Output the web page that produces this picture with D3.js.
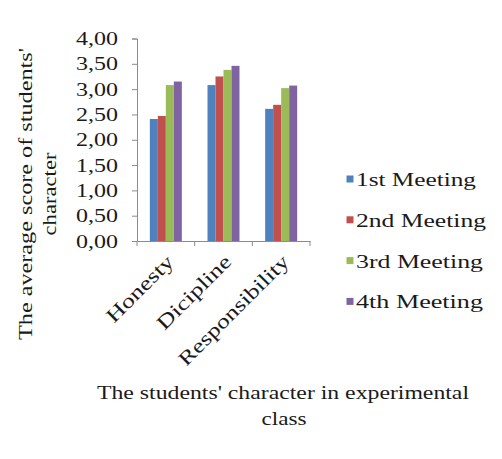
<!DOCTYPE html>
<html>
<head>
<meta charset="utf-8">
<script src="https://cdn.jsdelivr.net/npm/d3@7"></script>
<style>
  html, body { margin: 0; padding: 0; background: #ffffff; }
  svg { display: block; }
  svg text { font-family: "Liberation Serif", Tinos, "Times New Roman", Times, serif !important; fill: #1a1a1a; }
</style>
</head>
<body>
<svg id="chart" width="502" height="459"></svg>
<script>
// ---- data ----
const categories = ["Honesty", "Dicipline", "Responsibility"];
const seriesNames = ["1st Meeting", "2nd Meeting", "3rd Meeting", "4th Meeting"];
const meeting1 = [2.41, 3.08, 2.61];
const meeting2 = [2.47, 3.25, 2.69];
const meeting3 = [3.08, 3.38, 3.02];
const meeting4 = [3.15, 3.46, 3.07];
const yTicks = [0, 0.5, 1, 1.5, 2, 2.5, 3, 3.5, 4];
const colors = ["#4F81BD", "#C0504D", "#9BBB59", "#8064A2"];
const yTitleLines = ["The average score of students'", "character"];
const xTitleLines = ["The students' character in experimental", "class"];

const seriesValues = [meeting1, meeting2, meeting3, meeting4];

const svg = d3.select("#chart");
const axisColor = "#8c8c8c";

// scales
const x = d3.scaleBand().domain(categories).range([137, 310]).padding(0);
const inner = d3.scaleBand().domain(seriesNames).range([-16, 16]).padding(0);
const y = d3.scaleLinear().domain([0, 4]).range([241, 38.5]);

// bars
categories.forEach((cat, ci) => {
  const g = svg.append("g");
  seriesNames.forEach((s, si) => {
    const v = seriesValues[si][ci];
    g.append("rect")
      .attr("x", x(cat) + x.bandwidth() / 2 + inner(s))
      .attr("y", y(v))
      .attr("width", inner.bandwidth())
      .attr("height", y(0) - y(v))
      .attr("fill", colors[si]);
  });
});

// y axis
const fmt = d => d.toFixed(2).replace(".", ",");
const yAxis = svg.append("g")
  .attr("transform", "translate(137,0)")
  .call(d3.axisLeft(y).tickValues(yTicks).tickFormat(fmt).tickSize(5).tickPadding(14));
yAxis.attr("font-family", null);
yAxis.select(".domain").attr("stroke", axisColor);
yAxis.selectAll(".tick line").attr("stroke", axisColor);
yAxis.selectAll(".tick text")
  .attr("font-size", 19)
  .attr("fill", "#1a1a1a")
  .attr("textLength", 42)
  .attr("lengthAdjust", "spacingAndGlyphs");

// x axis
const xAxis = svg.append("g")
  .attr("transform", "translate(0,241)")
  .call(d3.axisBottom(x).tickSize(0).tickFormat(""));
xAxis.select(".domain").attr("stroke", axisColor);
xAxis.selectAll(".bound").data(d3.range(categories.length + 1)).enter()
  .append("line")
  .attr("x1", i => x.range()[0] + i * x.step())
  .attr("x2", i => x.range()[0] + i * x.step())
  .attr("y1", 0).attr("y2", 5)
  .attr("stroke", axisColor);

// rotated category labels
const catLen = [86, 96, 147];
categories.forEach((cat, i) => {
  const cx = x(cat) + x.bandwidth() / 2;
  svg.append("text")
    .attr("transform", `translate(${cx + 9},${263}) rotate(-45)`)
    .attr("text-anchor", "end")
    .attr("font-size", 20)
    .attr("textLength", catLen[i])
    .attr("lengthAdjust", "spacingAndGlyphs")
    .text(cat);
});

// y title
svg.append("text")
  .attr("transform", "translate(32,194) rotate(-90)")
  .attr("text-anchor", "middle")
  .attr("font-size", 19)
  .attr("textLength", 292)
  .attr("lengthAdjust", "spacingAndGlyphs")
  .text(yTitleLines[0]);
svg.append("text")
  .attr("transform", "translate(56,194) rotate(-90)")
  .attr("text-anchor", "middle")
  .attr("font-size", 19)
  .attr("textLength", 83)
  .attr("lengthAdjust", "spacingAndGlyphs")
  .text(yTitleLines[1]);

// x title
svg.append("text")
  .attr("x", 283).attr("y", 399)
  .attr("text-anchor", "middle")
  .attr("font-size", 19)
  .attr("textLength", 372)
  .attr("lengthAdjust", "spacingAndGlyphs")
  .text(xTitleLines[0]);
svg.append("text")
  .attr("x", 284).attr("y", 425)
  .attr("text-anchor", "middle")
  .attr("font-size", 19)
  .attr("textLength", 45)
  .attr("lengthAdjust", "spacingAndGlyphs")
  .text(xTitleLines[1]);

// legend
const legendLen = [120, 130, 127, 127];
const legend = svg.append("g");
seriesNames.forEach((s, i) => {
  const cy = 179 + i * 40.8;
  legend.append("rect")
    .attr("x", 346.5).attr("y", cy - 3.5)
    .attr("width", 7).attr("height", 7)
    .attr("fill", colors[i]);
  legend.append("text")
    .attr("x", 356).attr("y", cy + 7)
    .attr("font-size", 19)
    .attr("textLength", legendLen[i])
    .attr("lengthAdjust", "spacingAndGlyphs")
    .text(s);
});
</script>
</body>
</html>
